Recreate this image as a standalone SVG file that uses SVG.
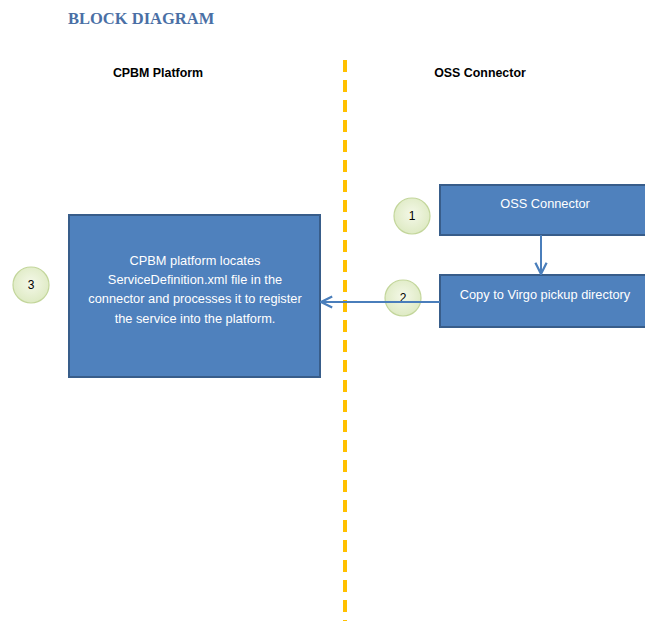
<svg xmlns="http://www.w3.org/2000/svg" width="645" height="621" viewBox="0 0 645 621">
<defs>
<style>
.box{fill:#4F81BD;stroke:#385D8A;stroke-width:2}
.bt{fill:#fff;font-family:"Liberation Sans",Arial,sans-serif;font-size:12.8px;text-anchor:middle}
.hd{fill:#000;font-family:"Liberation Sans",Arial,sans-serif;font-size:12.4px;font-weight:bold;text-anchor:middle}
.num{fill:#000;font-family:"Liberation Sans",Arial,sans-serif;font-size:12px;text-anchor:middle}
.circ{fill:url(#g);stroke:#C3D69B;stroke-width:1.2}
.con{stroke:#4A7EBB;stroke-width:2;fill:none}
</style>
<radialGradient id="g" cx="0.5" cy="0.45" r="0.6">
<stop offset="0" stop-color="#F4F8E8"/>
<stop offset="1" stop-color="#DCE9C0"/>
</radialGradient>
<marker id="ah" viewBox="0 0 10 10" refX="9" refY="5" markerWidth="7" markerHeight="7" orient="auto">
<path d="M1,1 L9,5 L1,9" fill="none" stroke="#4A7EBB" stroke-width="1.6"/>
</marker>
</defs>
<rect width="645" height="621" fill="#fff"/>
<text x="68" y="24" font-family="'Liberation Serif','DejaVu Serif',serif" font-size="16.5" font-weight="bold" fill="#4A6FA5">BLOCK DIAGRAM</text>
<text class="hd" x="158" y="77">CPBM Platform</text>
<text class="hd" x="480" y="77">OSS Connector</text>
<line x1="345" y1="60" x2="345" y2="621" stroke="#FFC000" stroke-width="4" stroke-dasharray="12 8"/>
<g id="cpbm">
<rect class="box" x="69" y="215" width="251" height="162"/>
<text class="bt" x="195" y="265">CPBM platform locates</text>
<text class="bt" x="195" y="284">ServiceDefinition.xml file in the</text>
<text class="bt" x="195" y="303">connector and processes it to register</text>
<text class="bt" x="195" y="323">the service into the platform.</text>
</g>
<g id="oss">
<rect class="box" x="440" y="185" width="215" height="50"/>
<text class="bt" x="545" y="208">OSS Connector</text>
</g>
<g id="copy">
<rect class="box" x="440" y="275" width="215" height="52"/>
<text class="bt" x="545" y="299">Copy to Virgo pickup directory</text>
</g>
<g id="c1">
<circle class="circ" cx="412" cy="216" r="18"/>
<text class="num" x="412" y="220">1</text>
</g>
<g id="c2">
<circle class="circ" cx="403" cy="298" r="18"/>
<text class="num" x="403" y="302">2</text>
</g>
<g id="c3">
<circle class="circ" cx="31" cy="285" r="18"/>
<text class="num" x="31" y="289">3</text>
</g>
<g id="connectors">
<line class="con" x1="541" y1="235" x2="541" y2="274" marker-end="url(#ah)"/>
<line class="con" x1="440" y1="302" x2="321" y2="302" marker-end="url(#ah)"/>
</g>
</svg>
